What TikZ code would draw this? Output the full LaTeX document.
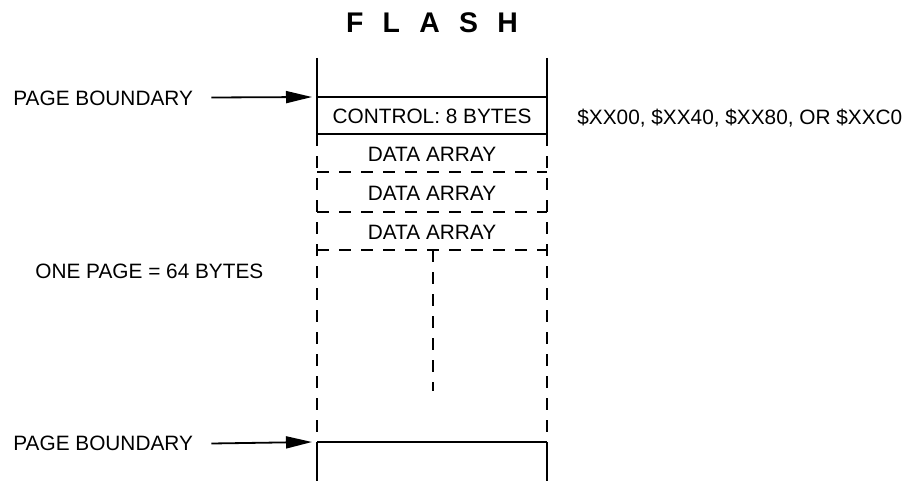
\documentclass[tikz,border=0pt]{standalone}
\usepackage{fontspec}
\setmainfont{Liberation Sans}
\usetikzlibrary{arrows.meta}

\begin{document}
\begin{tikzpicture}[x=0.5pt, y=-0.5pt,
      font=\fontsize{10.4}{12}\selectfont,
      texto/.style={inner sep=0pt, text height=0.72em, text depth=0pt},
      titulo/.style={texto, font=\fontsize{14.2}{16}\selectfont\bfseries},
      borda/.style={line width=1.3pt},
      tracejado/.style={borda, dash pattern=on 6pt off 5pt},
      seta/.style={-{Triangle[length=13pt,width=6pt]}, line width=0.9pt}]
    \useasboundingbox (0,0) rectangle (909,481);
    \node[titulo] (flash) at (432,25) {F\hspace{0.68em}L\hspace{0.68em}A\hspace{0.68em}S\hspace{0.68em}H};
    % coluna da flash
    \coordinate (ce) at (317,58);   \coordinate (cd) at (547,58);
    \coordinate (pe) at (317,97);   \coordinate (pd) at (547,97);
    \coordinate (ke) at (317,134);  \coordinate (kd) at (547,134);
    \coordinate (qe) at (317,442);  \coordinate (qd) at (547,442);
    \coordinate (fe) at (317,481);  \coordinate (fd) at (547,481);
    \draw[borda] (ce)--(ke) (cd)--(kd) (pe)--(pd) (ke)--(kd);
    \draw[tracejado] (ke)--(qe) (kd)--(qd);
    \draw[borda] (qe)--(fe) (qd)--(fd) (qe)--(qd);
    \draw[tracejado] (317,172)--(547,172) (317,212)--(547,212) (317,250)--(547,250);
    \draw[tracejado] (433,250)--(433,391);
    % textos
    \node[texto] (ctrl) at (432,116) {CONTROL: 8 BYTES};
    \node[texto] (d1) at (432,154) {DATA ARRAY};
    \node[texto] (d2) at (432,193) {DATA ARRAY};
    \node[texto] (d3) at (432,232) {DATA ARRAY};
    \node[texto, anchor=west] (ender) at (577,117) {\$XX00, \$XX40, \$XX80, OR \$XXC0};
    \node[texto, anchor=west] (um) at (35,271) {ONE PAGE = 64 BYTES};
    \node[texto, anchor=west] (pb1) at (13,98) {PAGE BOUNDARY};
    \node[texto, anchor=west] (pb2) at (13,443) {PAGE BOUNDARY};
    \coordinate (a1) at (312,97);   \coordinate (a2) at (312,442);
    \draw[seta] (pb1.east)+(9pt,-0.5) -- (a1);
    \draw[seta] (pb2.east)+(9pt,0.5) -- (a2);
  \end{tikzpicture}
\end{document}
